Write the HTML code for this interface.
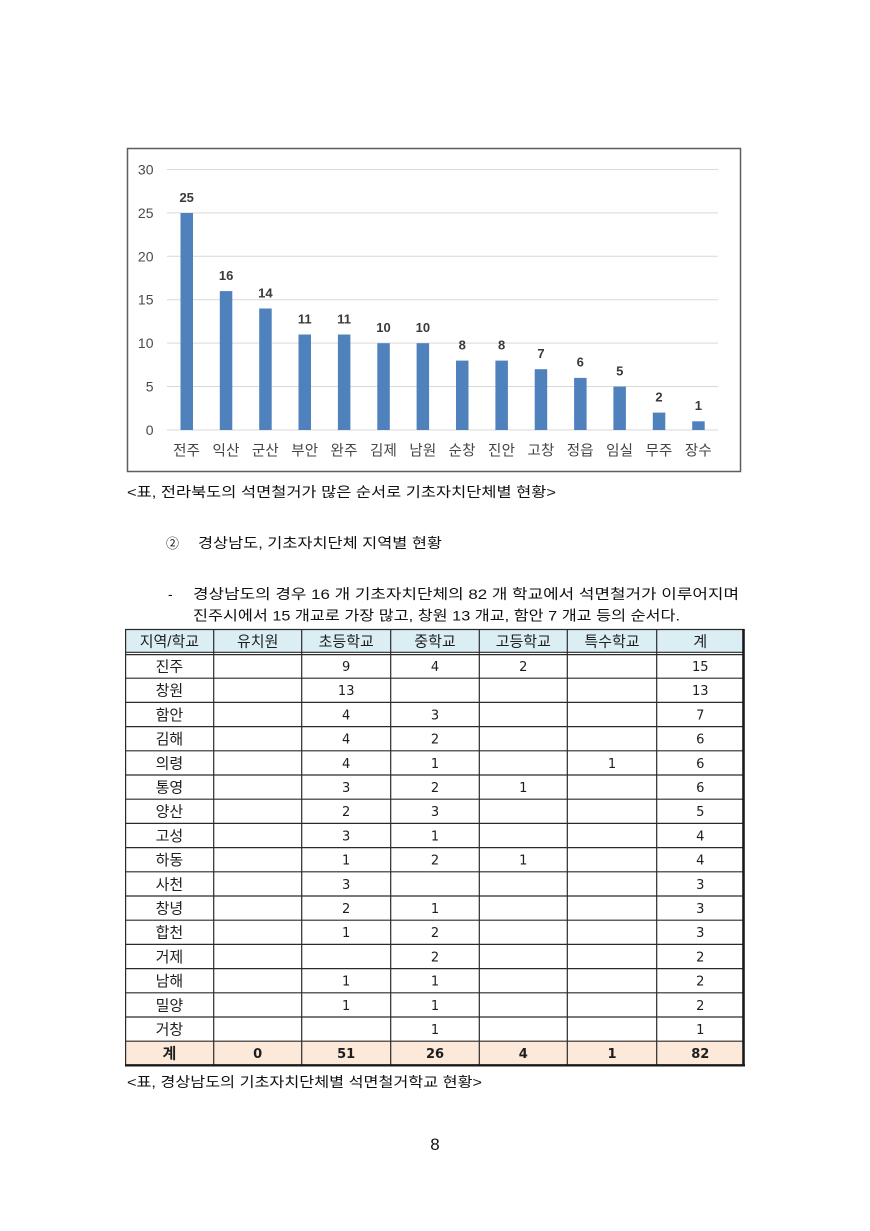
<!DOCTYPE html>
<html><head><meta charset="utf-8"><style>
html,body{margin:0;padding:0;background:#fff;}
svg{display:block;}
.k{font-family:"Liberation Sans","Noto Sans CJK KR",sans-serif;}
</style></head><body>
<svg width="870" height="1231" viewBox="0 0 870 1231" xmlns="http://www.w3.org/2000/svg">
<rect width="870" height="1231" fill="#fff"/>
<!-- CHART -->
<rect x="127.5" y="148.5" width="613" height="323" fill="#fff" stroke="#5e5e5e" stroke-width="1.5"/>
<g stroke="#d9d9d9" stroke-width="1">
<line x1="167" y1="169.5" x2="718" y2="169.5"/>
<line x1="167" y1="212.9" x2="718" y2="212.9"/>
<line x1="167" y1="256.3" x2="718" y2="256.3"/>
<line x1="167" y1="299.7" x2="718" y2="299.7"/>
<line x1="167" y1="343.1" x2="718" y2="343.1"/>
<line x1="167" y1="386.5" x2="718" y2="386.5"/>
<line x1="167" y1="430" x2="718" y2="430"/>
</g>
<g font-family="Liberation Sans, sans-serif" font-size="14" fill="#4a4a4a" text-anchor="end">
<text x="153.5" y="174.5">30</text>
<text x="153.5" y="217.9">25</text>
<text x="153.5" y="261.3">20</text>
<text x="153.5" y="304.7">15</text>
<text x="153.5" y="348.1">10</text>
<text x="153.5" y="391.5">5</text>
<text x="153.5" y="435">0</text>
</g>
<g fill="#4f81bd">
<rect x="180.5" y="213" width="12.5" height="217"/>
<rect x="219.8" y="291.1" width="12.5" height="138.9"/>
<rect x="259.2" y="308.5" width="12.5" height="121.5"/>
<rect x="298.5" y="334.5" width="12.5" height="95.5"/>
<rect x="337.9" y="334.5" width="12.5" height="95.5"/>
<rect x="377.3" y="343.2" width="12.5" height="86.8"/>
<rect x="416.6" y="343.2" width="12.5" height="86.8"/>
<rect x="456" y="360.6" width="12.5" height="69.4"/>
<rect x="495.4" y="360.6" width="12.5" height="69.4"/>
<rect x="534.7" y="369.2" width="12.5" height="60.8"/>
<rect x="574.1" y="377.9" width="12.5" height="52.1"/>
<rect x="613.4" y="386.6" width="12.5" height="43.4"/>
<rect x="652.8" y="412.6" width="12.5" height="17.4"/>
<rect x="692.2" y="421.3" width="12.5" height="8.7"/>
</g>
<g font-family="Liberation Sans, sans-serif" font-size="13" font-weight="bold" fill="#3a3a3a" text-anchor="middle">
<text x="186.7" y="201.8">25</text>
<text x="226.1" y="279.9">16</text>
<text x="265.4" y="297.3">14</text>
<text x="304.8" y="323.3">11</text>
<text x="344.1" y="323.3">11</text>
<text x="383.5" y="332">10</text>
<text x="422.9" y="332">10</text>
<text x="462.2" y="349.4">8</text>
<text x="501.6" y="349.4">8</text>
<text x="541" y="358">7</text>
<text x="580.3" y="366.7">6</text>
<text x="619.7" y="375.4">5</text>
<text x="659" y="401.4">2</text>
<text x="698.4" y="410.1">1</text>
</g>
<g class="k" font-size="14.5" fill="#444" text-anchor="middle" letter-spacing="0.2">
<text x="186.7" y="455.5">전주</text>
<text x="226.1" y="455.5">익산</text>
<text x="265.4" y="455.5">군산</text>
<text x="304.8" y="455.5">부안</text>
<text x="344.1" y="455.5">완주</text>
<text x="383.5" y="455.5">김제</text>
<text x="422.9" y="455.5">남원</text>
<text x="462.2" y="455.5">순창</text>
<text x="501.6" y="455.5">진안</text>
<text x="541" y="455.5">고창</text>
<text x="580.3" y="455.5">정읍</text>
<text x="619.7" y="455.5">임실</text>
<text x="659" y="455.5">무주</text>
<text x="698.4" y="455.5">장수</text>
</g>
<!-- BODY TEXT -->
<g class="k" font-size="14" fill="#111">
<text x="127" y="497" textLength="429" lengthAdjust="spacingAndGlyphs">&lt;표, 전라북도의 석면철거가 많은 순서로 기초자치단체별 현황&gt;</text>
<text x="166" y="548" font-size="13">②</text>
<text x="198" y="548" textLength="244" lengthAdjust="spacingAndGlyphs">경상남도, 기초자치단체 지역별 현황</text>
<text x="168" y="599">-</text>
<text x="193" y="599" textLength="546" lengthAdjust="spacingAndGlyphs">경상남도의 경우 16 개 기초자치단체의 82 개 학교에서 석면철거가 이루어지며</text>
<text x="193" y="620.5" textLength="487" lengthAdjust="spacingAndGlyphs">진주시에서 15 개교로 가장 많고, 창원 13 개교, 함안 7 개교 등의 순서다.</text>
<text x="127" y="1087" textLength="355" lengthAdjust="spacingAndGlyphs">&lt;표, 경상남도의 기초자치단체별 석면철거학교 현황&gt;</text>
</g>
<text x="435" y="1150" font-family="Liberation Sans, sans-serif" font-size="17" fill="#111" text-anchor="middle">8</text>
<!-- TABLE -->
<rect x="125" y="629" width="619" height="24" fill="#dbeef4"/>
<rect x="125" y="1041.2" width="619" height="24" fill="#fde9d9"/>
<g stroke="#2b2b2b" stroke-width="1.2">
<line x1="125" y1="629.5" x2="744" y2="629.5"/>
<line x1="125" y1="652.3" x2="744" y2="652.3"/>
<line x1="125" y1="654.6" x2="744" y2="654.6"/>
<line x1="125" y1="678.2" x2="744" y2="678.2"/>
<line x1="125" y1="702.4" x2="744" y2="702.4"/>
<line x1="125" y1="726.6" x2="744" y2="726.6"/>
<line x1="125" y1="750.8" x2="744" y2="750.8"/>
<line x1="125" y1="775" x2="744" y2="775"/>
<line x1="125" y1="799.2" x2="744" y2="799.2"/>
<line x1="125" y1="823.4" x2="744" y2="823.4"/>
<line x1="125" y1="847.6" x2="744" y2="847.6"/>
<line x1="125" y1="871.8" x2="744" y2="871.8"/>
<line x1="125" y1="896" x2="744" y2="896"/>
<line x1="125" y1="920.2" x2="744" y2="920.2"/>
<line x1="125" y1="944.4" x2="744" y2="944.4"/>
<line x1="125" y1="968.6" x2="744" y2="968.6"/>
<line x1="125" y1="992.8" x2="744" y2="992.8"/>
<line x1="125" y1="1017" x2="744" y2="1017"/>
<line x1="125" y1="1041.2" x2="744" y2="1041.2"/>
<line x1="125.6" y1="629" x2="125.6" y2="1065"/>
<line x1="213.7" y1="629" x2="213.7" y2="1065"/>
<line x1="301.7" y1="629" x2="301.7" y2="1065"/>
<line x1="390.7" y1="629" x2="390.7" y2="1065"/>
<line x1="479.3" y1="629" x2="479.3" y2="1065"/>
<line x1="567.3" y1="629" x2="567.3" y2="1065"/>
<line x1="656.7" y1="629" x2="656.7" y2="1065"/>
</g>
<line x1="743.5" y1="629" x2="743.5" y2="1066.5" stroke="#1a1a1a" stroke-width="2.6"/>
<line x1="125" y1="1065.3" x2="745" y2="1065.3" stroke="#1a1a1a" stroke-width="2.4"/>
<g class="k" font-size="15" fill="#1e1e1e" text-anchor="middle">
<text x="169.4" y="646.5">지역/학교</text>
<text x="257.7" y="646.5">유치원</text>
<text x="346.2" y="646.5">초등학교</text>
<text x="435" y="646.5">중학교</text>
<text x="523.3" y="646.5">고등학교</text>
<text x="612" y="646.5">특수학교</text>
<text x="700.3" y="646.5">계</text>
<text x="169.4" y="671.5">진주</text>
<text x="169.4" y="695.7">창원</text>
<text x="169.4" y="719.9">함안</text>
<text x="169.4" y="744.1">김해</text>
<text x="169.4" y="768.3">의령</text>
<text x="169.4" y="792.5">통영</text>
<text x="169.4" y="816.7">양산</text>
<text x="169.4" y="840.9">고성</text>
<text x="169.4" y="865.1">하동</text>
<text x="169.4" y="889.3">사천</text>
<text x="169.4" y="913.5">창녕</text>
<text x="169.4" y="937.7">합천</text>
<text x="169.4" y="961.9">거제</text>
<text x="169.4" y="986.1">남해</text>
<text x="169.4" y="1010.3">밀양</text>
<text x="169.4" y="1034.5">거창</text>
<text x="169.4" y="1058.7" font-weight="bold">계</text>
</g>
<g font-family="DejaVu Sans, sans-serif" font-size="13" fill="#1e1e1e" text-anchor="middle">
<text x="346.2" y="671">9</text><text x="435" y="671">4</text><text x="523.3" y="671">2</text><text x="700.3" y="671">15</text>
<text x="346.2" y="695.2">13</text><text x="700.3" y="695.2">13</text>
<text x="346.2" y="719.4">4</text><text x="435" y="719.4">3</text><text x="700.3" y="719.4">7</text>
<text x="346.2" y="743.6">4</text><text x="435" y="743.6">2</text><text x="700.3" y="743.6">6</text>
<text x="346.2" y="767.8">4</text><text x="435" y="767.8">1</text><text x="612" y="767.8">1</text><text x="700.3" y="767.8">6</text>
<text x="346.2" y="792">3</text><text x="435" y="792">2</text><text x="523.3" y="792">1</text><text x="700.3" y="792">6</text>
<text x="346.2" y="816.2">2</text><text x="435" y="816.2">3</text><text x="700.3" y="816.2">5</text>
<text x="346.2" y="840.4">3</text><text x="435" y="840.4">1</text><text x="700.3" y="840.4">4</text>
<text x="346.2" y="864.6">1</text><text x="435" y="864.6">2</text><text x="523.3" y="864.6">1</text><text x="700.3" y="864.6">4</text>
<text x="346.2" y="888.8">3</text><text x="700.3" y="888.8">3</text>
<text x="346.2" y="913">2</text><text x="435" y="913">1</text><text x="700.3" y="913">3</text>
<text x="346.2" y="937.2">1</text><text x="435" y="937.2">2</text><text x="700.3" y="937.2">3</text>
<text x="435" y="961.4">2</text><text x="700.3" y="961.4">2</text>
<text x="346.2" y="985.6">1</text><text x="435" y="985.6">1</text><text x="700.3" y="985.6">2</text>
<text x="346.2" y="1009.8">1</text><text x="435" y="1009.8">1</text><text x="700.3" y="1009.8">2</text>
<text x="435" y="1034">1</text><text x="700.3" y="1034">1</text>
</g>
<g font-family="DejaVu Sans, sans-serif" font-size="13" font-weight="bold" fill="#1e1e1e" text-anchor="middle">
<text x="257.7" y="1058.2">0</text><text x="346.2" y="1058.2">51</text><text x="435" y="1058.2">26</text><text x="523.3" y="1058.2">4</text><text x="612" y="1058.2">1</text><text x="700.3" y="1058.2">82</text>
</g>
</svg>
</body></html>
